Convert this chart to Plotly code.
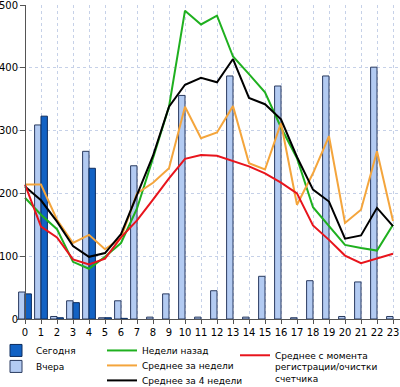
import plotly.graph_objects as go

hours = list(range(24))
hour_labels = [str(h) for h in hours]

today = [40, 323, 2, 26, 240, 2, 1] + [None] * 17
yesterday = [43, 309, 4, 29, 267, 2, 29, 244, 3, 40, 356, 3, 45, 387, 3, 68, 371, 2, 61, 387, 4, 59, 401, 4]
weeks_ago = [193, 166, 143, 91, 80, 99, 121, 176, 256, 338, 491, 469, 483, 418, 390, 361, 305, 256, 178, 148, 118, 113, 109, 150]
avg_weeks = [214, 214, 158, 121, 134, 111, 129, 200, 217, 240, 338, 288, 297, 339, 248, 238, 312, 182, 232, 291, 153, 174, 267, 156]
avg_4weeks = [211, 189, 155, 116, 99, 105, 135, 196, 260, 338, 373, 384, 377, 414, 352, 342, 318, 258, 206, 187, 128, 133, 177, 148]
avg_all = [214, 147, 130, 95, 87, 96, 130, 157, 190, 224, 255, 261, 260, 252, 243, 232, 217, 200, 149, 126, 101, 89, 97, 104]

FONT = "DejaVu Sans"
TXT = 9

fig = go.Figure()
fig.add_trace(go.Bar(x=hours, y=yesterday, name="Вчера", marker=dict(color="#b3cbf2", line=dict(color="#2a3b60", width=1)), legend="legend2"))
fig.add_trace(go.Bar(x=hours, y=today, name="Сегодня", marker=dict(color="#1262c4", line=dict(color="#0d2c5e", width=1)), legend="legend"))
fig.add_trace(go.Scatter(x=hours, y=weeks_ago, mode="lines", name="Недели назад", line=dict(color="#1fb01f", width=2), legend="legend3"))
fig.add_trace(go.Scatter(x=hours, y=avg_weeks, mode="lines", name="Среднее за недели", line=dict(color="#f4a53c", width=2), legend="legend4"))
fig.add_trace(go.Scatter(x=hours, y=avg_4weeks, mode="lines", name="Среднее за 4 недели", line=dict(color="#000000", width=2), legend="legend5"))
fig.add_trace(go.Scatter(x=hours, y=avg_all, mode="lines", name="Среднее с момента<br>регистрации/очистки<br>счетчика", line=dict(color="#e8141c", width=2), legend="legend6"))

L, PW, T, PH = 17, 383, 5, 314.5
def px(X):
    return (X - L) / PW
def py(Y):
    return (T + PH - Y) / PH

def leg(x, y, yanchor="middle", valign="middle"):
    return dict(x=px(x), y=py(y), xanchor="left", yanchor=yanchor, valign=valign, bgcolor="rgba(0,0,0,0)",
                font=dict(family=FONT, size=TXT, color="#000"), borderwidth=0)

fig.update_layout(
    width=400, height=387,
    margin=dict(l=L, r=0, t=T, b=387 - T - PH, autoexpand=False),
    paper_bgcolor="white", plot_bgcolor="white",
    barmode="group", bargap=0.2, bargroupgap=0,
    font=dict(family=FONT, size=TXT, color="#000"),
    showlegend=True,
    legend=leg(-4, 351),
    legend2=leg(-4, 367),
    legend3=leg(102, 351),
    legend4=leg(102, 366),
    legend5=leg(102, 381),
    legend6=leg(235, 368, valign="top"),
    xaxis=dict(range=[-0.5, -0.5 + PW / 16], tickmode="array", tickvals=hours, ticktext=hour_labels,
               showgrid=True, gridcolor="#c6d1e8", griddash="dot", gridwidth=1, automargin=False,
               showline=True, linecolor="#555", linewidth=1, ticks="outside", ticklen=4, tickcolor="#555",
               tickfont=dict(family=FONT, size=10), zeroline=False, ticklabeloverflow="allow"),
    yaxis=dict(range=[0, 500], tickvals=[0, 100, 200, 300, 400, 500], anchor="free", position=0.5 / (PW / 16),
               showgrid=True, gridcolor="#c6d1e8", griddash="dot", gridwidth=1, automargin=False,
               showline=True, linecolor="#555", linewidth=1, ticks="outside", ticklen=5, tickcolor="#555",
               tickfont=dict(family=FONT, size=10), zeroline=False, ticklabeloverflow="allow"),
)

fig.write_html("out.html", config={"displayModeBar": False},
               post_script="document.body.style.margin='0';document.body.style.overflow='hidden';")
